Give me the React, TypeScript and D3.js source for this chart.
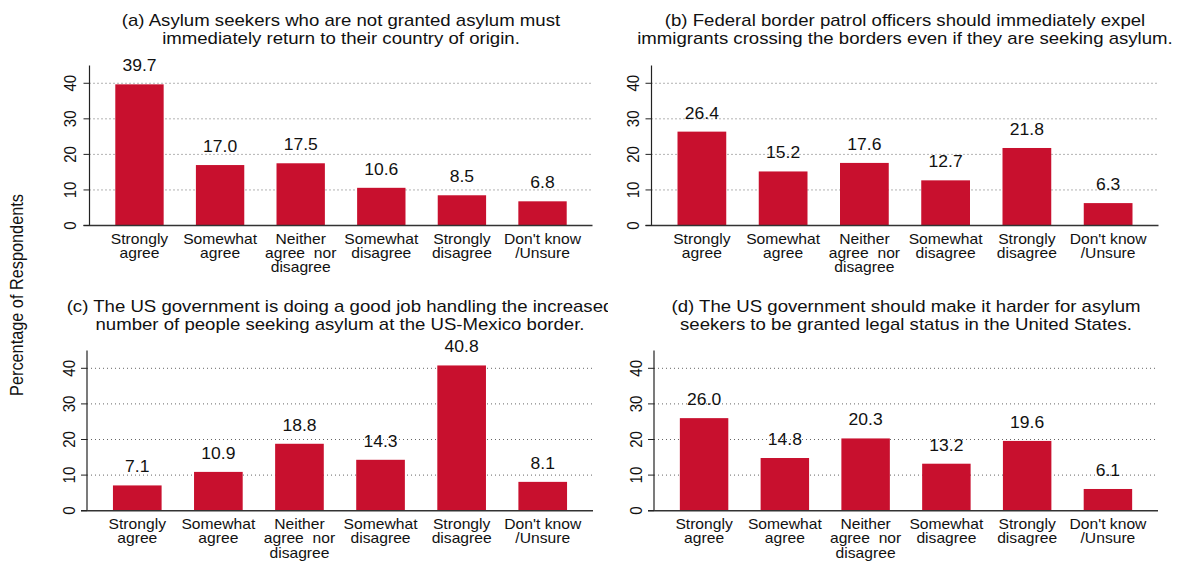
import React from "react";
import * as d3 from "d3";

const categories = [
  "Strongly\nagree",
  "Somewhat\nagree",
  "Neither\nagree  nor\ndisagree",
  "Somewhat\ndisagree",
  "Strongly\ndisagree",
  "Don't know\n/Unsure",
];

const titles = [
  "(a) Asylum seekers who are not granted asylum must\nimmediately return to their country of origin.",
  "(b) Federal border patrol officers should immediately expel\nimmigrants crossing the borders even if they are seeking asylum.",
  "(c) The US government is doing a good job handling the increased\nnumber of people seeking asylum at the US-Mexico border.",
  "(d) The US government should make it harder for asylum\nseekers to be granted legal status in the United States.",
];

const valuesA = [39.7, 17.0, 17.5, 10.6, 8.5, 6.8];
const valuesB = [26.4, 15.2, 17.6, 12.7, 21.8, 6.3];
const valuesC = [7.1, 10.9, 18.8, 14.3, 40.8, 8.1];
const valuesD = [26.0, 14.8, 20.3, 13.2, 19.6, 6.1];

const yTicks = [0, 10, 20, 30, 40];
const yLabel = "Percentage of Respondents";

const FONT = "'Liberation Sans', Arial, Helvetica, sans-serif";
const RED = "#c8102e";
const SX = 1.095;

type Layout = {
  x0: number;
  x1: number;
  zero: number;
  top: number;
  titleY: number;
  clipRight: number;
  tickOffset: number;
};

const layouts: Layout[] = [
  { x0: 89.5, x1: 592.5, zero: 225.5, top: 65.5, titleY: 26, clipRight: 612, tickOffset: 13.5 },
  { x0: 651.5, x1: 1158.5, zero: 225.5, top: 65.5, titleY: 26, clipRight: 1177, tickOffset: 12.5 },
  { x0: 87, x1: 593, zero: 510.7, top: 350.5, titleY: 311.7, clipRight: 608, tickOffset: 12.5 },
  { x0: 654, x1: 1158, zero: 510.7, top: 350.5, titleY: 311.7, clipRight: 1177, tickOffset: 12 },
];

const allValues = [valuesA, valuesB, valuesC, valuesD];

function Panel({ values, title, L, idx }: { values: number[]; title: string; L: Layout; idx: number }) {
  const x = d3
    .scaleBand<string>()
    .domain(categories)
    .range([L.x0, L.x1])
    .paddingInner(0.4)
    .paddingOuter(0.32);
  const y = d3.scaleLinear().domain([0, 45]).range([L.zero, L.top]);
  const cx = (L.x0 + L.x1) / 2;
  const titleLines = title.split("\n");
  const clipId = `clip-${idx}`;
  return (
    <g>
      <defs>
        <clipPath id={clipId}>
          <rect x={0} y={0} width={L.clipRight} height={564} />
        </clipPath>
      </defs>
      <g clipPath={`url(#${clipId})`}>
        {titleLines.map((t, i) => (
          <text
            key={i}
            transform={`translate(${cx},${L.titleY + i * 17.8}) scale(${SX},1)`}
            textAnchor="middle"
            fontSize={17}
            fill="#111"
          >
            {t}
          </text>
        ))}
      </g>
      {yTicks
        .filter((t) => t > 0)
        .map((t) => (
          <line
            key={t}
            x1={L.x0}
            x2={L.x1}
            y1={y(t)}
            y2={y(t)}
            stroke="#666"
            strokeWidth={1}
            strokeDasharray="1,3"
          />
        ))}
      {values.map((v, i) => (
        <rect
          key={i}
          x={x(categories[i])}
          y={y(v)}
          width={x.bandwidth()}
          height={y(0) - y(v)}
          fill={RED}
        />
      ))}
      {values.map((v, i) => (
        <text
          key={i}
          transform={`translate(${x(categories[i])! + x.bandwidth() / 2},${y(v) - 13}) scale(${SX},1)`}
          textAnchor="middle"
          fontSize={16}
          fill="#111"
        >
          {v.toFixed(1)}
        </text>
      ))}
      <line x1={L.x0} x2={L.x0} y1={L.top} y2={L.zero} stroke="#222" strokeWidth={1.2} />
      <line x1={L.x0 - 6} x2={L.x1} y1={L.zero} y2={L.zero} stroke="#333" strokeWidth={1.4} />
      {yTicks.map((t) => (
        <g key={t}>
          <line x1={L.x0 - 6} x2={L.x0} y1={y(t)} y2={y(t)} stroke="#222" strokeWidth={1} />
          <text
            transform={`translate(${L.x0 - L.tickOffset},${y(t)}) rotate(-90) scale(1,${SX})`}
            textAnchor="middle"
            fontSize={15}
            fill="#111"
          >
            {t}
          </text>
        </g>
      ))}
      {categories.map((c, i) => (
        <g key={i}>
          {c.split("\n").map((line, j) => (
            <text
              key={j}
              transform={`translate(${x(c)! + x.bandwidth() / 2},${L.zero + 18 + j * 14.4}) scale(${SX},1)`}
              textAnchor="middle"
              fontSize={14.3}
              fill="#111"
              style={{ whiteSpace: "pre" }}
            >
              {line}
            </text>
          ))}
        </g>
      ))}
    </g>
  );
}

export default function App() {
  return (
    <svg
      width={1177}
      height={564}
      style={{ position: "absolute", left: 0, top: 0, background: "#fff" }}
      fontFamily={FONT}
    >
      <rect x={0} y={0} width={1177} height={564} fill="#fff" />
      {allValues.map((vals, i) => (
        <Panel key={i} values={vals} title={titles[i]} L={layouts[i]} idx={i} />
      ))}
      <text
        transform={`translate(22.5,295) rotate(-90) scale(1,${SX})`}
        textAnchor="middle"
        fontSize={16.3}
        fill="#111"
      >
        {yLabel}
      </text>
    </svg>
  );
}
